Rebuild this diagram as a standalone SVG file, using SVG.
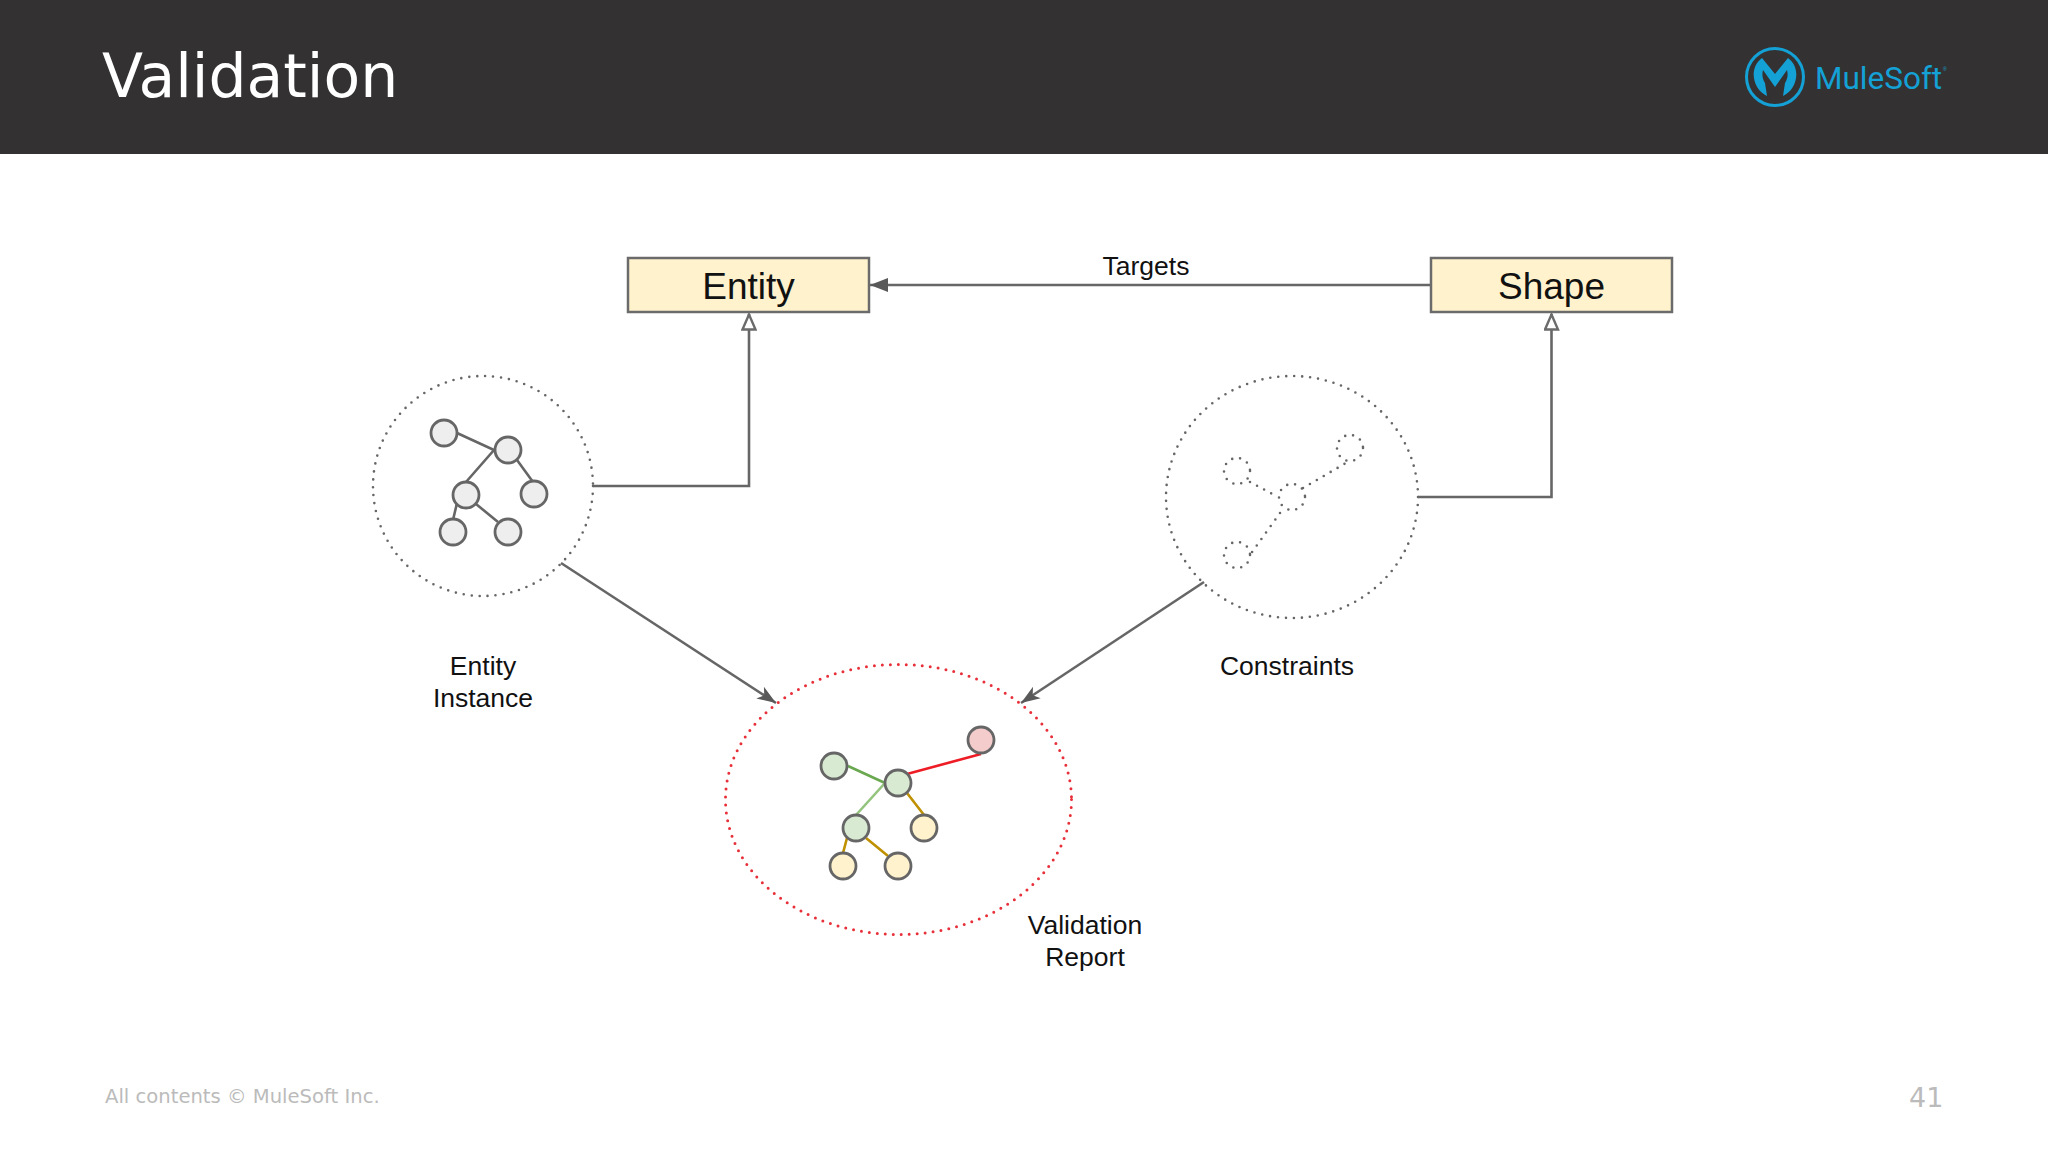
<svg xmlns="http://www.w3.org/2000/svg" width="2048" height="1152" viewBox="0 0 2048 1152">
<style>
.lbl{font-family:"Liberation Sans",Arial,sans-serif;font-size:26.5px;fill:#111;text-anchor:middle}
.box{fill:#fff2cc;stroke:#6b6b6b;stroke-width:2.5}
.boxt{font-family:"Liberation Sans",Arial,sans-serif;font-size:37px;fill:#111;text-anchor:middle}
.dot{fill:none;stroke:#666;stroke-width:2.6;stroke-linecap:round;stroke-dasharray:0 8}
.red{stroke:#e8303a;fill:none;stroke-width:3;stroke-linecap:round;stroke-dasharray:0 8}
.c{fill:none;stroke:#666;stroke-width:2.6}
.n{stroke:#666;stroke-width:2.8;fill:#eee}
.g{fill:#d9ead3}.y{fill:#fff2cc}.r{fill:#f4cccc}
.foot{font-family:"DejaVu Sans",Verdana,sans-serif;fill:#bbb}
</style>
<defs>
<marker id="open" markerUnits="userSpaceOnUse" markerWidth="18" markerHeight="16" refX="17" refY="8" orient="auto" viewBox="0 0 18 16"><path d="M1.500 1.500L16.500 8L1.500 14.500Z" fill="#fff" stroke="#6b6b6b" stroke-width="2.4"/></marker>
<marker id="solid" markerUnits="userSpaceOnUse" markerWidth="19" markerHeight="16" refX="18" refY="8" orient="auto" viewBox="0 0 19 16"><path d="M0 1L18 8L0 15Z" fill="#595959"/></marker>
<marker id="barb" markerUnits="userSpaceOnUse" markerWidth="20" markerHeight="16" refX="19" refY="8" orient="auto" viewBox="0 0 20 16"><path d="M0 1L19 8L0 15L5 8Z" fill="#595959"/></marker>
</defs>
<rect width="2048" height="1152" fill="#fff"/>
<rect width="2048" height="154" fill="#333132"/>
<text x="102" y="97" class="foot" style="fill:#fff;font-size:60px">Validation</text>
<g id="logo">
<circle cx="1775" cy="77" r="28.500" fill="none" stroke="#14a1d6" stroke-width="3"/>
<path d="M1767 96C1753 90 1748 68 1762 58L1775 74L1788 58C1802 68 1797 90 1783 96L1785 83C1788 78 1788 74 1787 70L1775 87L1763 70C1762 74 1762 78 1765 83Z" fill="#14a1d6"/>
<text x="1815" y="89" style="font-family:Roboto,sans-serif;font-size:31.500px;fill:#14a1d6">MuleSoft</text>
<text x="1943" y="71" style="font-family:'Liberation Sans',sans-serif;font-size:5px;fill:#14a1d6">®</text>
</g>
<g id="connectors">
<path class="c" d="M593 486H749V314" marker-end="url(#open)"/>
<path class="c" d="M1418 497H1551.500V314" marker-end="url(#open)"/>
<path class="c" d="M1431 285H870" marker-end="url(#solid)"/>
<path class="c" d="M561 563L776 703" marker-end="url(#barb)"/>
<path class="c" d="M1204 582L1021 703" marker-end="url(#barb)"/>
</g>
<g id="entity"><rect class="box" x="628" y="258" width="241" height="54"/><text class="boxt" x="748.500" y="298.500">Entity</text></g>
<g id="shape"><rect class="box" x="1431" y="258" width="241" height="54"/><text class="boxt" x="1551.500" y="298.500">Shape</text></g>
<text class="lbl" x="1146" y="275">Targets</text>
<g id="entity-instance">
<circle class="dot" cx="483" cy="486" r="110"/>
<path class="c" d="M457 433L494 450L466 482M517 460L533 482M457 503L453 520M476 504L498 522"/>
<circle class="n" cx="444" cy="433" r="13"/><circle class="n" cx="508" cy="450" r="13"/><circle class="n" cx="466" cy="495" r="13"/><circle class="n" cx="534" cy="494" r="13"/><circle class="n" cx="453" cy="532" r="13"/><circle class="n" cx="508" cy="532" r="13"/>
<text class="lbl" x="483" y="674.500">Entity</text><text class="lbl" x="483" y="706.500">Instance</text>
</g>
<g id="constraints">
<ellipse class="dot" cx="1292" cy="497" rx="126" ry="121"/>
<circle class="dot" cx="1237" cy="471" r="13"/><circle class="dot" cx="1350" cy="448" r="13"/><circle class="dot" cx="1292" cy="497" r="13"/><circle class="dot" cx="1237" cy="555" r="13"/>
<path class="dot" d="M1250 482L1278 497M1303 488L1346 463M1280 513L1250 555"/>
<text class="lbl" x="1287" y="674.500">Constraints</text>
</g>
<g id="validation-report">
<ellipse class="red" cx="898.500" cy="799.500" rx="173" ry="135"/>
<path d="M848 766L885 783" stroke="#6aa84f" stroke-width="2.600"/><path d="M885 783L856 815" stroke="#93c47d" stroke-width="2.600"/>
<path d="M907 774L981 754" stroke="#ee1c25" stroke-width="2.600"/>
<path d="M907 793L924 815M847 838L843 853M866 838L888 856" stroke="#bf9000" stroke-width="2.600" fill="none"/>
<circle class="n g" cx="834" cy="766" r="13"/><circle class="n g" cx="898" cy="783" r="13"/><circle class="n r" cx="981" cy="740" r="13"/><circle class="n g" cx="856" cy="828" r="13"/><circle class="n y" cx="924" cy="828" r="13"/><circle class="n y" cx="843" cy="866" r="13"/><circle class="n y" cx="898" cy="866" r="13"/>
<text class="lbl" x="1085" y="933.500">Validation</text><text class="lbl" x="1085" y="965.500">Report</text>
</g>
<text class="foot" x="105" y="1103" style="font-size:19.600px">All contents © MuleSoft Inc.</text>
<text class="foot" x="1909" y="1107" style="font-size:27px">41</text>
</svg>
